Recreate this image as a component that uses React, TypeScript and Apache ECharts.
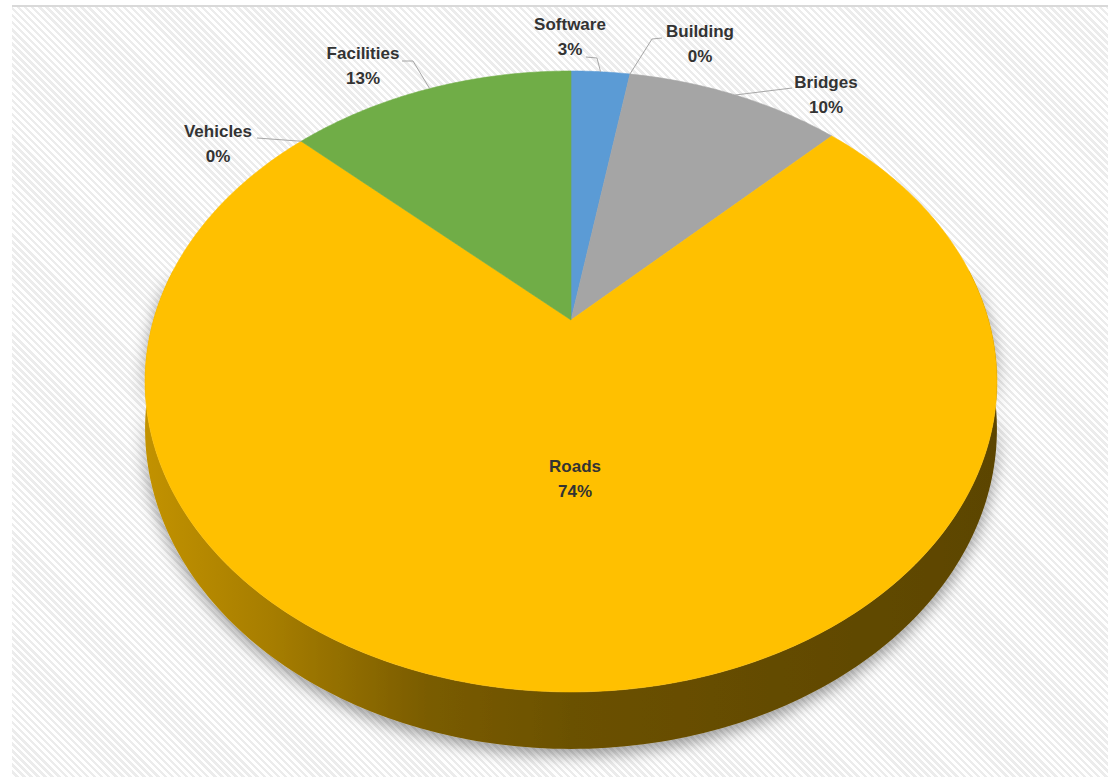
import React, { useEffect, useRef } from 'react';
import * as echarts from 'echarts';

// ---- data ----
const categories = ['Software', 'Building', 'Bridges', 'Roads', 'Vehicles', 'Facilities'];
const values = [2.7, 0, 9.9, 74.3, 0, 13.1];

// ---- styles / layout ----
const sliceColors = ['#5b9bd5', '#ed7d31', '#a5a5a5', '#ffc000', '#4472c4', '#70ad47'];
const labelCenters = [[570, 37], [700, 44], [826, 95], [575, 479], [218, 144], [363, 66]];
const leaderPoints = [
  [[586, 57], [597, 58]],
  [[662, 38], [652, 39]],
  [[792, 88]],
  [],
  [[257, 138]],
  [[402, 61], [413, 61]],
];

// perspective pie geometry
const CX = 571, CY = 320, A = 417.5, B = 298.3, K = 0.198, T = 45.7;

function proj(deg: number, drop = 0): number[] {
  const t = (deg * Math.PI) / 180;
  const u = Math.sin(t), w = Math.cos(t);
  const s = 1 / (1 + K * w);
  return [CX + A * u * s, CY - B * w * s + T * s * drop];
}

function shade(hex: string, f: number): string {
  const n = parseInt(hex.slice(1), 16);
  const r = Math.round(((n >> 16) & 255) * f);
  const g = Math.round(((n >> 8) & 255) * f);
  const b = Math.round((n & 255) * f);
  return `rgb(${r},${g},${b})`;
}

export default function App() {
  const ref = useRef<HTMLDivElement>(null);
  useEffect(() => {
    if (!ref.current) return;
    const chart = echarts.init(ref.current, undefined, { renderer: 'svg' });
    const total = values.reduce((a, b) => a + b, 0);
    const starts: number[] = [];
    let acc = 0;
    values.forEach((v) => { starts.push(acc); acc += v; });

    const renderItem = (params: any, api: any) => {
      const i = params.dataIndex;
      const v = api.value(0);
      const a1 = (starts[i] / total) * 360;
      const a2 = a1 + (v / total) * 360;
      const children: any[] = [];
      const col = sliceColors[i];
      if (v > 0) {
        // top face
        const pts: number[][] = [[CX, CY]];
        const n = Math.max(2, Math.ceil((a2 - a1) / 0.5));
        for (let j = 0; j <= n; j++) pts.push(proj(a1 + ((a2 - a1) * j) / n));
        children.push({
          type: 'polygon', z2: 10,
          shape: { points: pts },
          style: { fill: col, stroke: col, lineWidth: 0.6 },
        });
        // side wall (front part only)
        const lo = Math.max(a1, 80), hi = Math.min(a2, 280);
        if (hi > lo) {
          const top: number[][] = [], bot: number[][] = [];
          const m = Math.max(2, Math.ceil(hi - lo));
          for (let j = 0; j <= m; j++) {
            const d = lo + ((hi - lo) * j) / m;
            top.push(proj(d));
            bot.push(proj(d, 1));
          }
          const grad = new echarts.graphic.LinearGradient(CX - 426, 0, CX + 426, 0, [
            { offset: 0, color: shade(col, 0.76) },
            { offset: 0.15, color: shade(col, 0.65) },
            { offset: 0.33, color: shade(col, 0.48) },
            { offset: 0.5, color: shade(col, 0.42) },
            { offset: 1, color: shade(col, 0.36) },
          ], true);
          children.push({
            type: 'polygon', z2: 0,
            shape: { points: top.concat(bot.reverse()) },
            style: {
              fill: grad,
              shadowBlur: 16, shadowColor: 'rgba(0,0,0,0.4)', shadowOffsetY: 6,
            },
          });
        }
      }
      // label
      const pct = Math.round((v / total) * 100);
      const [lx, ly] = labelCenters[i];
      children.push({
        type: 'text', z2: 30,
        style: {
          text: `${categories[i]}\n${pct}%`,
          x: lx, y: ly,
          align: 'center', verticalAlign: 'middle',
          fill: '#333333',
          fontSize: 17, fontWeight: 'bold',
          fontFamily: '"Liberation Sans", Arial, sans-serif',
          lineHeight: 25,
        },
      });
      const lp = leaderPoints[i];
      if (lp.length) {
        const anchor = proj((a1 + a2) / 2);
        children.push({
          type: 'polyline', z2: 25,
          shape: { points: lp.concat([anchor]) },
          style: { stroke: '#a6a6a6', lineWidth: 1, fill: null },
        });
      }
      return { type: 'group', children };
    };

    chart.setOption({
      animation: false,
      backgroundColor: 'transparent',
      tooltip: { show: false },
      series: [
        {
          type: 'custom',
          coordinateSystem: 'none',
          silent: true,
          renderItem,
          data: values.map((v) => [v]),
        },
      ],
    });
    return () => chart.dispose();
  }, []);

  return (
    <div style={{ position: 'absolute', left: 0, top: 0, width: 1108, height: 777, background: '#ffffff', overflow: 'hidden' }}>
      <div
        style={{
          position: 'absolute', left: 12, top: 5, right: 0, bottom: 0,
          borderTop: '2px solid #d9d9d9',
          background: 'repeating-linear-gradient(45deg, #ffffff 0px, #ffffff 2.5px, #ececec 2.5px, #ececec 5px)',
        }}
      />
      <div ref={ref} style={{ position: 'absolute', left: 0, top: 0, width: 1108, height: 777 }} />
    </div>
  );
}
